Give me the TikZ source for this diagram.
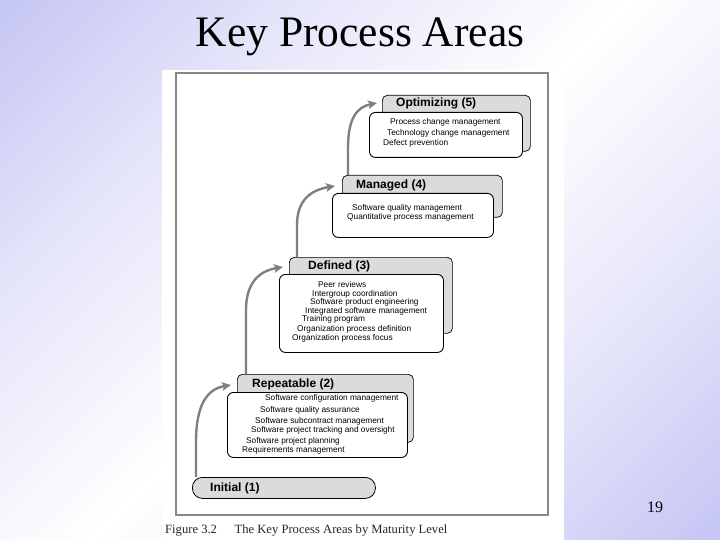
\documentclass[tikz,border=0pt]{standalone}
\usepackage{fontspec}
\setmainfont{Liberation Serif}
\newfontfamily\arialf{Liberation Sans}
\usetikzlibrary{arrows.meta}
\definecolor{lav}{RGB}{198,198,244}
\definecolor{lavlight}{RGB}{230,230,250}
\definecolor{boxgray}{RGB}{219,219,221}
\definecolor{arrgray}{RGB}{128,128,128}
\definecolor{framegray}{RGB}{136,136,136}
\pgfdeclareverticalshading{bgshade}{100bp}{color(0bp)=(lav); color(15bp)=(lav); color(32bp)=(lavlight); color(50bp)=(white); color(68bp)=(lavlight); color(85bp)=(lav); color(100bp)=(lav)}
\tikzset{
  graybox/.style={draw=black, line width=0.7pt, fill=boxgray, rounded corners=5pt, inner sep=0pt, anchor=north west},
  whitebox/.style={draw=black, line width=0.9pt, fill=white, rounded corners=6pt, inner sep=0pt, anchor=north west},
  hdr/.style={font=\arialf\bfseries\fontsize{12}{13}\selectfont, inner sep=0pt, anchor=west},
  item/.style={font=\arialf\fontsize{8.3}{9}\selectfont, inner sep=0pt, anchor=west},
  arr/.style={draw=arrgray, line width=2.4pt, -{Stealth[length=9pt,width=8.5pt,inset=2pt]}}
}
\begin{document}
\begin{tikzpicture}[x=1pt,y=-1pt]
\useasboundingbox (0,0) rectangle (720,540);
\shade[shading=bgshade, shading angle=45] (0,0) rectangle (720,540);
% title
\node[font=\fontsize{43.5}{50}\selectfont, anchor=base, inner sep=0pt] (title) at (360,47) {Key Process Areas};
% figure area
\fill[white] (162,70) rectangle (564,540);
\draw[framegray, line width=2.6pt] (176,73) rectangle (548,515);
\node[font=\fontsize{12.6}{14}\selectfont, text=black!85, anchor=base west, inner sep=0pt] (cap) at (165,533) {Figure 3.2\hspace{1.4em}The Key Process Areas by Maturity Level};
\node[font=\fontsize{16}{18}\selectfont, inner sep=0pt] (pg) at (655,507) {19};

% Optimizing (5)
\node[graybox, minimum width=148pt, minimum height=56pt] (opt) at (382,95) {};
\node[hdr] (optH) at (396,103) {Optimizing (5)};
\node[whitebox, minimum width=153pt, minimum height=45pt] (optW) at (369,112) {};
\node[item] (o1) at (390,122) {Process change management};
\node[item] (o2) at (387,133) {Technology change management};
\node[item] (o3) at (383,143) {Defect prevention};

% Managed (4)
\node[graybox, minimum width=160pt, minimum height=42pt] (man) at (342,175) {};
\node[hdr] (manH) at (356,185) {Managed (4)};
\node[whitebox, minimum width=161pt, minimum height=44pt] (manW) at (332,193) {};
\node[item] (m1) at (352,208) {Software quality management};
\node[item] (m2) at (347,217) {Quantitative process management};

% Defined (3)
\node[graybox, minimum width=163pt, minimum height=76pt] (def) at (289,257) {};
\node[hdr] (defH) at (308,266) {Defined (3)};
\node[whitebox, minimum width=164pt, minimum height=78pt] (defW) at (279,274) {};
\node[item] (d1) at (318,285) {Peer reviews};
\node[item] (d2) at (312,294) {Intergroup coordination};
\node[item] (d3) at (310,302) {Software product engineering};
\node[item] (d4) at (305,311) {Integrated software management};
\node[item] (d5) at (302,319) {Training program};
\node[item] (d6) at (297,329) {Organization process definition};
\node[item] (d7) at (292,338) {Organization process focus};

% Repeatable (2)
\node[graybox, minimum width=176pt, minimum height=68pt] (rep) at (237,374) {};
\node[hdr] (repH) at (252,384) {Repeatable (2)};
\node[whitebox, minimum width=180pt, minimum height=65pt] (repW) at (227,392) {};
\node[item] (r1) at (265,398) {Software configuration management};
\node[item] (r2) at (260,410) {Software quality assurance};
\node[item] (r3) at (255,421) {Software subcontract management};
\node[item] (r4) at (251,430) {Software project tracking and oversight};
\node[item] (r5) at (246,441) {Software project planning};
\node[item] (r6) at (242,450) {Requirements management};

% Initial (1)
\node[draw=black, line width=0.8pt, fill=boxgray, rounded corners=10pt, minimum width=183pt, minimum height=21pt, inner sep=0pt, anchor=north west] (init) at (192,477) {};
\node[hdr] (initH) at (210,488) {Initial (1)};

% arrows
\coordinate (s1) at (196,477); \coordinate (e1) at (231,385);
\coordinate (s2) at (246,374); \coordinate (e2) at (283,267);
\coordinate (s3) at (297,257); \coordinate (e3) at (335,186);
\coordinate (s4) at (348,175); \coordinate (e4) at (377,103);
\draw[arr] (s1) -- (196,442) .. controls (196,405) and (207,389) .. (e1);
\draw[arr] (s2) -- (246,310) .. controls (246,283) and (259,271) .. (e2);
\draw[arr] (s3) -- (297,225) .. controls (297,200) and (311,190) .. (e3);
\draw[arr] (s4) -- (348,148) .. controls (348,118) and (357,107) .. (e4);
\end{tikzpicture}
\end{document}
